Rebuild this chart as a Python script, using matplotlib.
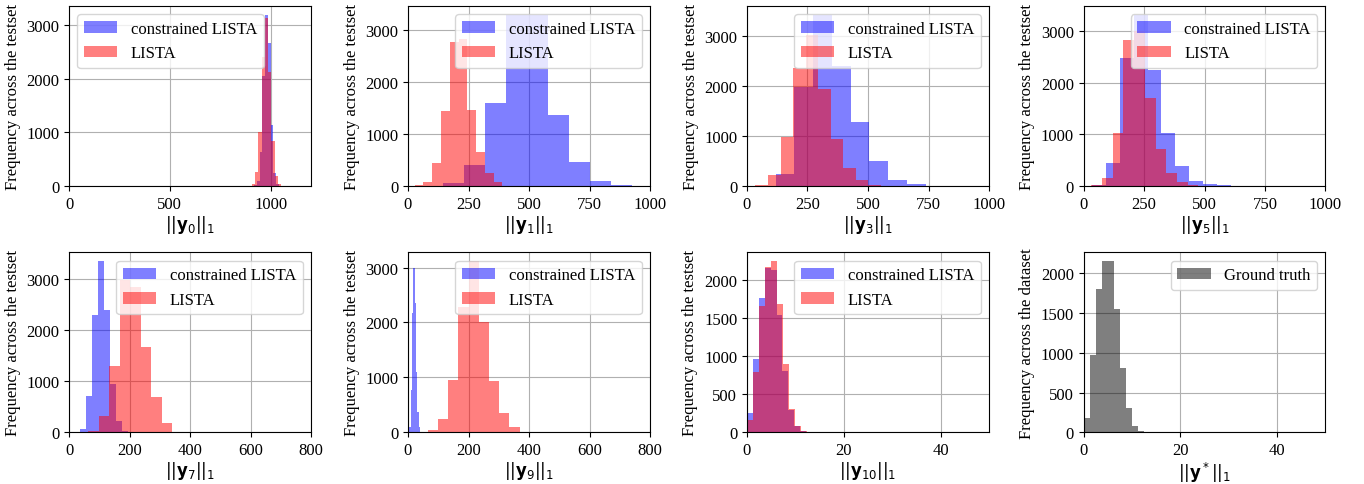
import matplotlib
matplotlib.use("Agg")
import matplotlib.pyplot as plt
import numpy as np

plt.rcParams['font.family'] = ['Liberation Serif', 'DejaVu Serif']
plt.rcParams['mathtext.fontset'] = 'dejavusans'
plt.rcParams['font.size'] = 12

# ---------------- data (bin edges and counts) ----------------
labels_pair = ["constrained LISTA", "LISTA"]
label_gt = "Ground truth"

y0_cl_edges = [904, 917.6, 931.2, 944.8, 958.4, 972, 985.6, 999.2, 1012.8, 1026.4, 1040]
y0_cl_counts = [2, 15, 90, 630, 2050, 3190, 2660, 1140, 250, 40]
y0_l_edges = [890, 906, 922, 938, 955, 971, 988, 1004, 1021, 1037, 1053]
y0_l_counts = [5, 40, 260, 1000, 2400, 3130, 2130, 835, 185, 30]

y1_cl_edges = [58, 145, 231, 318, 404, 491, 578, 667, 754, 840, 927]
y1_cl_counts = [5, 50, 404, 1603, 3300, 3290, 1359, 455, 90, 10]
y1_l_edges = [28, 64, 100, 137, 173, 209, 245, 281, 318, 354, 390]
y1_l_counts = [20, 83, 436, 1436, 2770, 2833, 1455, 660, 244, 70]

y3_cl_edges = [40, 118, 196, 273, 351, 429, 506, 584, 662, 739, 817]
y3_cl_counts = [3, 247, 1980, 3433, 2413, 1280, 500, 113, 33, 5]
y3_l_edges = [35, 87, 139, 190, 242, 294, 346, 398, 449, 501, 553]
y3_l_counts = [20, 213, 980, 2367, 3033, 1947, 947, 353, 113, 27]

y5_cl_edges = [36, 93, 150, 208, 265, 322, 379, 436, 494, 551, 608]
y5_cl_counts = [15, 437, 2479, 3314, 2235, 1015, 385, 96, 38, 10]
y5_l_edges = [32, 76, 121, 165, 209, 254, 298, 342, 386, 431, 475]
y5_l_counts = [20, 148, 1028, 2826, 3000, 1708, 713, 257, 71, 15]

y7_cl_edges = [36, 56, 76, 96, 116, 136, 156, 175, 195, 215, 235]
y7_cl_counts = [59, 711, 2296, 3353, 2394, 946, 228, 26, 5, 1]
y7_l_edges = [30, 64, 99, 133, 168, 202, 237, 271, 306, 340, 374]
y7_l_counts = [5, 33, 326, 1305, 2988, 2844, 1676, 698, 176, 3]

y9_cl_edges = [0.5, 4.8, 9.1, 13.4, 17.7, 22.0, 26.3, 30.6, 34.9, 39.2, 43.5]
y9_cl_counts = [3, 91, 776, 2170, 3000, 2363, 1090, 364, 91, 10]
y9_l_edges = [31, 65, 98, 132, 166, 200, 234, 267, 301, 335, 369]
y9_l_counts = [3, 42, 242, 952, 2273, 3121, 2000, 933, 358, 91]

y10_cl_edges = [0, 1.22, 2.44, 3.66, 4.88, 6.10, 7.32, 8.54, 9.76, 10.98, 12.2]
y10_cl_counts = [258, 963, 1764, 2153, 2131, 1545, 801, 293, 79, 18]
y10_l_edges = [0, 1.23, 2.46, 3.69, 4.92, 6.15, 7.38, 8.61, 9.84, 11.07, 12.3]
y10_l_counts = [162, 796, 1663, 2175, 2249, 1685, 893, 306, 79, 18]

gt_edges = [0, 1.245, 2.49, 3.735, 4.98, 6.225, 7.47, 8.715, 9.96, 11.205, 12.45]
gt_counts = [180, 973, 1803, 2155, 2155, 1551, 813, 302, 80, 17]

panels = [
    (r'$||\mathbf{y}_0||_1$', y0_cl_edges, y0_cl_counts, y0_l_edges, y0_l_counts, (0, 1200), 'upper left'),
    (r'$||\mathbf{y}_1||_1$', y1_cl_edges, y1_cl_counts, y1_l_edges, y1_l_counts, (0, 1000), 'upper right'),
    (r'$||\mathbf{y}_3||_1$', y3_cl_edges, y3_cl_counts, y3_l_edges, y3_l_counts, (0, 1000), 'upper right'),
    (r'$||\mathbf{y}_5||_1$', y5_cl_edges, y5_cl_counts, y5_l_edges, y5_l_counts, (0, 1000), 'upper right'),
    (r'$||\mathbf{y}_7||_1$', y7_cl_edges, y7_cl_counts, y7_l_edges, y7_l_counts, (0, 800), 'upper right'),
    (r'$||\mathbf{y}_9||_1$', y9_cl_edges, y9_cl_counts, y9_l_edges, y9_l_counts, (0, 800), 'upper right'),
    (r'$||\mathbf{y}_{10}||_1$', y10_cl_edges, y10_cl_counts, y10_l_edges, y10_l_counts, (0, 50), 'upper right'),
]

W, H = 1364, 485
fig = plt.figure(figsize=(W / 100, H / 100), dpi=100)

lefts = [69, 408, 747, 1083.5]
width = 242
tops = [7, 253.3]
height = 180


def make_ax(r, c):
    l = lefts[c]
    t = tops[r]
    return fig.add_axes([l / W, (H - t - height) / H, width / W, height / H])


def centers(e):
    e = np.asarray(e, dtype=float)
    return (e[:-1] + e[1:]) / 2


for i, (xl, ce, cc, le, lc, xlim, loc) in enumerate(panels):
    ax = make_ax(i // 4, i % 4)
    ax.grid(True, color='#b0b0b0', linewidth=0.8)
    ax.set_axisbelow(True)
    ax.hist(centers(ce), bins=ce, weights=cc, color='b', alpha=0.5, label=labels_pair[0])
    ax.hist(centers(le), bins=le, weights=lc, color='r', alpha=0.5, label=labels_pair[1])
    ax.set_xlim(*xlim)
    ax.set_xlabel(xl, labelpad=1)
    ax.set_ylabel('Frequency across the testset')
    ax.legend(loc=loc)

ax = make_ax(1, 3)
ax.grid(True, color='#b0b0b0', linewidth=0.8)
ax.set_axisbelow(True)
ax.hist(centers(gt_edges), bins=gt_edges, weights=gt_counts, color='k', alpha=0.5, label=label_gt)
ax.set_xlim(0, 50)
ax.set_xlabel(r'$||\mathbf{y}^*||_1$', labelpad=1)
ax.set_ylabel('Frequency across the dataset')
ax.legend(loc='upper right')

fig.savefig('out.png', dpi=100)
